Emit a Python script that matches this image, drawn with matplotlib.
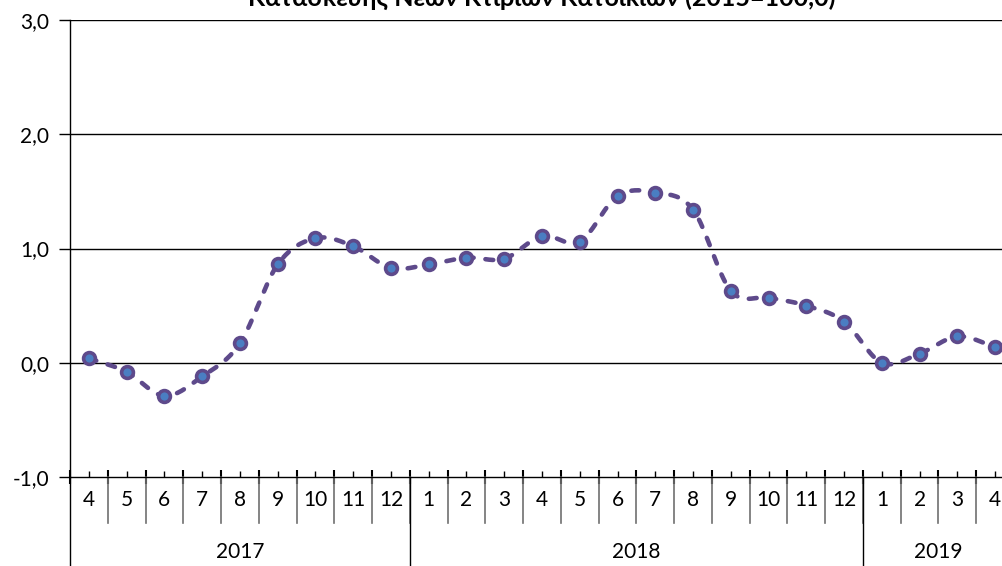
import numpy as np
import matplotlib
matplotlib.use("Agg")
import matplotlib.pyplot as plt
from matplotlib.transforms import blended_transform_factory

plt.rcParams['font.family'] = ['Lato', 'DejaVu Sans']

# ---- data ----
years = ["2017", "2018", "2019"]
months_2017 = [4, 5, 6, 7, 8, 9, 10, 11, 12]
months_2018 = [1, 2, 3, 4, 5, 6, 7, 8, 9, 10, 11, 12]
months_2019 = [1, 2, 3, 4]
values = [0.04, -0.08, -0.29, -0.12, 0.17, 0.86, 1.09, 1.02, 0.83,
          0.86, 0.92, 0.91, 1.11, 1.06, 1.46, 1.49, 1.34, 0.63, 0.57, 0.50, 0.36,
          0.00, 0.08, 0.23, 0.14]
title = "Κατασκευής Νέων Κτιρίων Κατοικιών (2015=100,0)"
yticks = [-1.0, 0.0, 1.0, 2.0, 3.0]

month_labels = [str(m) for m in months_2017 + months_2018 + months_2019]
year_counts = [len(months_2017), len(months_2018), len(months_2019)]
n = len(values)
x = np.arange(n)

# smooth rendering (Catmull-Rom) of the line, as Excel's smoothed line
def catmull(xs, ys, steps=20):
    px, py = [], []
    xs = np.asarray(xs, float); ys = np.asarray(ys, float)
    X = np.concatenate([[2*xs[0]-xs[1]], xs, [2*xs[-1]-xs[-2]]])
    Y = np.concatenate([[2*ys[0]-ys[1]], ys, [2*ys[-1]-ys[-2]]])
    for i in range(1, len(X)-2):
        t = np.linspace(0, 1, steps, endpoint=False)
        for arr, out in ((X, px), (Y, py)):
            p0, p1, p2, p3 = arr[i-1], arr[i], arr[i+1], arr[i+2]
            out.extend(0.5*((2*p1) + (-p0+p2)*t + (2*p0-5*p1+4*p2-p3)*t**2 + (-p0+3*p1-3*p2+p3)*t**3))
    px.append(xs[-1]); py.append(ys[-1])
    return np.array(px), np.array(py)

fig = plt.figure(figsize=(10.03, 5.66), dpi=100)
W, H = 1003, 566
left, right, top, bottom = 70, 1014, 20, 477
ax = fig.add_axes([left/W, (H-bottom)/H, (right-left)/W, (bottom-top)/H])

ax.set_xlim(-0.5, n-0.5)
ax.set_ylim(-1, 3)

line_color = '#5E4A8B'
marker_face = '#4A7EC2'
fs = 15

for yv in [0, 1, 2, 3]:
    ax.axhline(yv, color='black', lw=1.0, zorder=1)

sx, sy = catmull(x, values)
ax.plot(sx, sy, color=line_color, lw=3.3, dashes=(1.7, 2.6), zorder=3,
        dash_capstyle='round')
ax.plot(x, values, linestyle='none', marker='o', ms=8.5, mfc=marker_face,
        mec=line_color, mew=2.6, zorder=4)

for s in ['top', 'right']:
    ax.spines[s].set_visible(False)
ax.spines['left'].set_color('black')
ax.spines['bottom'].set_color('black')
ax.spines['left'].set_linewidth(1.0)
ax.spines['bottom'].set_linewidth(1.0)

ax.set_yticks(yticks)
ax.set_yticklabels([f"{v:.1f}".replace('.', ',') for v in yticks], fontsize=fs)
ax.tick_params(axis='y', direction='out', length=8, width=1, pad=7)

ax.set_xticks(np.arange(n+1) - 0.5)
ax.set_xticklabels([])
ax.set_xticks(x, minor=True)
ax.tick_params(axis='x', which='major', direction='inout', length=10, width=1.5)
ax.tick_params(axis='x', which='minor', direction='in', length=4, width=1)

trans = blended_transform_factory(ax.transData, ax.transAxes)
ph = bottom - top
month_row = -(523 - bottom) / ph
year_row = -(566 - bottom) / ph

for i, lab in enumerate(month_labels):
    ax.text(i, -(500 - bottom) / ph * -1 * -1, lab, transform=trans, ha='center', va='center',
            fontsize=fs)
for b in range(1, n):
    ax.plot([b-0.5, b-0.5], [0, month_row], transform=trans, color='#707070', lw=1.2,
            clip_on=False)

starts = np.concatenate([[0], np.cumsum(year_counts)])
for k, yr in enumerate(years):
    c = (starts[k] + starts[k+1] - 1) / 2
    ax.text(c, -(552 - bottom) / ph, yr, transform=trans, ha='center', va='center', fontsize=fs)
for b in starts[1:-1]:
    ax.plot([b-0.5, b-0.5], [0, year_row], transform=trans, color='black', lw=1.0, clip_on=False)
ax.plot([-0.5, -0.5], [0, year_row], transform=trans, color='black', lw=1.0, clip_on=False)

fig.text((left+right)/2/W, (H-6)/H, title, ha='center', va='baseline', fontsize=18,
         fontweight='bold')

fig.savefig('out.png', dpi=100)
